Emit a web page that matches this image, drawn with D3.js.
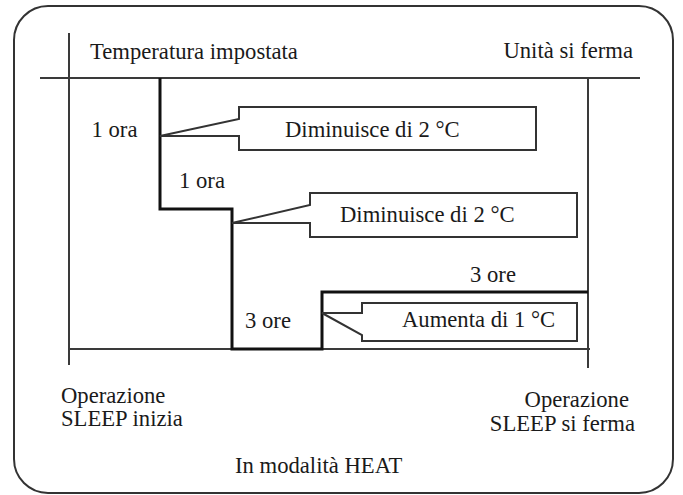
<!DOCTYPE html>
<html>
<head>
<meta charset="utf-8">
<script src="https://cdn.jsdelivr.net/npm/d3@7"></script>
<style>
  body { margin: 0; background: #fff; }
  svg text { fill: #1a1a1a; }
</style>
</head>
<body>
<svg id="chart" width="683" height="495"></svg>
<script>
// time marks (hours) and temperature offsets (°C) of the SLEEP profile
const stepTimes = [0, 1, 2, 5, 8];
const stepLevels = [0, -2, -3, -4];
const profileTimes = [1, 1, 2, 2, 5, 5, 8];
const profileDeltas = [0, -2, -2, -4, -4, -3, -3];

// durations between changes
const spanStarts = [0, 1, 2, 5];
const spanEnds = [1, 2, 5, 8];
const spanLabels = ["1 ora", "1 ora", "3 ore", "3 ore"];

// callout notes at each change
const noteTimes = [1, 2, 5];
const noteLabels = ["Diminuisce di 2 °C", "Diminuisce di 2 °C", "Aumenta di 1 °C"];

// pick an installed serif face and size it so the heading is ~208px wide
const ctx = document.createElement("canvas").getContext("2d");
function widthIn(font, txt) { ctx.font = font; return ctx.measureText(txt).width; }
const probe = "Temperatura impostata WWmmii";
const candidates = ["Liberation Serif", "Tinos", "Times New Roman", "Noto Serif", "DejaVu Serif"];
let face = "serif";
for (const c of candidates) {
    if (widthIn(`40px "${c}", monospace`, probe) !== widthIn("40px monospace", probe)) { face = `"${c}"`; break; }
}
const fontFamily = `${face}, serif`;
const fontSize = 22 * 208 / widthIn(`22px ${fontFamily}`, "Temperatura impostata");

const svg = d3.select("#chart");

// schematic (not proportional) scales
const x = d3.scaleLinear()
    .domain(stepTimes)
    .range([69, 160, 232, 322, 588]);
const y = d3.scaleLinear()
    .domain(stepLevels)
    .range([78, 209, 292, 349]);

// outer frame
svg.append("rect")
    .attr("x", 14).attr("y", 6)
    .attr("width", 659).attr("height", 487)
    .attr("rx", 34).attr("ry", 34)
    .attr("fill", "none")
    .attr("stroke", "#333")
    .attr("stroke-width", 2);

const axisColor = "#3a3a3a";

// set temperature line
svg.append("line")
    .attr("x1", 40).attr("x2", 640)
    .attr("y1", y(0)).attr("y2", y(0))
    .attr("stroke", axisColor).attr("stroke-width", 2);

// start / stop verticals
svg.append("line")
    .attr("x1", x(0)).attr("x2", x(0))
    .attr("y1", 33).attr("y2", 365)
    .attr("stroke", axisColor).attr("stroke-width", 2);
svg.append("line")
    .attr("x1", x(8)).attr("x2", x(8))
    .attr("y1", y(0)).attr("y2", 368)
    .attr("stroke", axisColor).attr("stroke-width", 2);

// bottom line
svg.append("line")
    .attr("x1", x(0)).attr("x2", x(8) + 2)
    .attr("y1", y(-4)).attr("y2", y(-4))
    .attr("stroke", axisColor).attr("stroke-width", 2);

// profile step line
const line = d3.line()
    .x(d => x(d[0]))
    .y(d => y(d[1]));
svg.append("path")
    .datum(d3.zip(profileTimes, profileDeltas))
    .attr("d", line)
    .attr("fill", "none")
    .attr("stroke", "#111")
    .attr("stroke-width", 3)
    .attr("stroke-linejoin", "miter");

// callout layout: tip y, notch x, right, top, bottom, upper pointer y, lower pointer y, text x, text baseline
const noteLayout = [
    {tip: 136, notch: 239, right: 536, top: 107, bottom: 150, up: 119, low: 136, tx: 285, ty: 137},
    {tip: 223, notch: 310, right: 577, top: 193, bottom: 237, up: 205, low: 223, tx: 340, ty: 222},
    {tip: 313, notch: 362, right: 577, top: 303, bottom: 341, up: 313, low: 335, tx: 402, ty: 327}
];

noteTimes.forEach((t, i) => {
    const L = noteLayout[i];
    const tx = x(t);
    const p = d3.path();
    p.moveTo(tx, L.tip);
    p.lineTo(L.notch, L.up);
    p.lineTo(L.notch, L.top);
    p.lineTo(L.right, L.top);
    p.lineTo(L.right, L.bottom);
    p.lineTo(L.notch, L.bottom);
    p.lineTo(L.notch, L.low);
    p.closePath();
    svg.append("path")
        .attr("d", p.toString())
        .attr("fill", "none")
        .attr("stroke", "#333")
        .attr("stroke-width", 2)
        .attr("stroke-linejoin", "miter");
    svg.append("text")
        .attr("x", L.tx).attr("y", L.ty)
        .text(noteLabels[i]);
});

// duration labels (layout offsets from span middle)
const spanLayout = [
    {dx: 0, y: 137},
    {dx: 6, y: 188},
    {dx: -9, y: 328},
    {dx: 38, y: 282}
];
spanLabels.forEach((s, i) => {
    svg.append("text")
        .attr("x", (x(spanStarts[i]) + x(spanEnds[i])) / 2 + spanLayout[i].dx)
        .attr("y", spanLayout[i].y)
        .attr("text-anchor", "middle")
        .text(s);
});

// headings
svg.append("text").attr("x", 90).attr("y", 59).text("Temperatura impostata");
svg.append("text").attr("x", 633).attr("y", 58).attr("text-anchor", "end").text("Unità si ferma");

svg.append("text").attr("x", 61).attr("y", 403).text("Operazione");
svg.append("text").attr("x", 61).attr("y", 426).text("SLEEP inizia");

svg.append("text").attr("x", 629).attr("y", 407).attr("text-anchor", "end").text("Operazione");
svg.append("text").attr("x", 635).attr("y", 431).attr("text-anchor", "end").text("SLEEP si ferma");

svg.append("text").attr("x", 235).attr("y", 473).text("In modalità HEAT");

svg.selectAll("text")
    .style("font-family", fontFamily)
    .style("font-size", `${fontSize.toFixed(2)}px`);
</script>
</body>
</html>
